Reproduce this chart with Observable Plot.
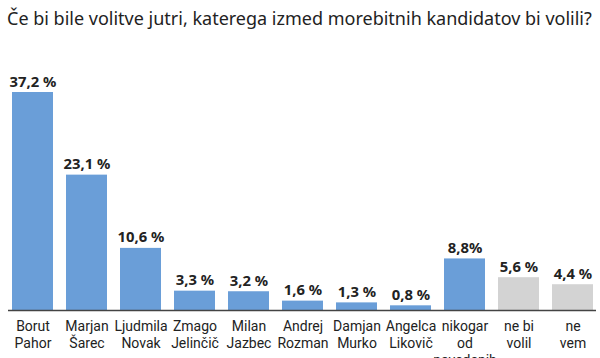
<!DOCTYPE html>
<html><head><meta charset="utf-8">
<script src="https://cdn.jsdelivr.net/npm/d3@7"></script>
<script src="https://cdn.jsdelivr.net/npm/@observablehq/plot@0.6"></script>
<style>
body{margin:0;background:#fff;width:600px;height:358px;overflow:hidden;font-family:"Noto Sans",sans-serif;}
#title{height:34px;box-sizing:border-box;padding:6px 0 0 7px;font-size:18px;line-height:24px;color:#222;white-space:nowrap;}
</style></head>
<body>
<div id="title">Če bi bile volitve jutri, katerega izmed morebitnih kandidatov bi volili?</div>
<div id="chart"></div>
<script>
const candidates = ["Borut\nPahor","Marjan\nŠarec","Ljudmila\nNovak","Zmago\nJelinčič","Milan\nJazbec","Andrej\nRozman","Damjan\nMurko","Angelca\nLikovič","nikogar\nod\nnavedenih","ne bi\nvolil","ne\nvem"];
const values = [37.2,23.1,10.6,3.3,3.2,1.6,1.3,0.8,8.8,5.6,4.4];
const valueLabels = ["37,2 %","23,1 %","10,6 %","3,3 %","3,2 %","1,6 %","1,3 %","0,8 %","8,8%","5,6 %","4,4 %"];
const groups = ["c","c","c","c","c","c","c","c","c","o","o"];
const data = candidates.map((c,i)=>({name:c, value:values[i], label:valueLabels[i], group:groups[i]}));

const chart = Plot.plot({
  width: 600, height: 324,
  marginTop: 58, marginBottom: 48, marginLeft: 8, marginRight: 4,
  style: {fontFamily: '"Noto Sans", sans-serif', color: "#222", background: "#fff"},
  x: {domain: candidates, range: [3.9, 601.2], paddingInner: 0.25, paddingOuter: 0.125},
  y: {domain: [0, 37.2], axis: null},
  color: {domain: ["c","o"], range: ["#6a9ed8","#d3d3d3"]},
  marks: [
    Plot.barY(data, {x: "name", y: "value", fill: "group"}),
    Plot.text(data, {x: "name", y: "value", text: "label", lineAnchor: "bottom", dy: -6, fontWeight: "bold", fontSize: 14.8, fill: "#222"}),
    Plot.axisX({tickSize: 0, tickPadding: 8, fontSize: 14, fontFamily: "Roboto, sans-serif", lineHeight: 1.214, fill: "#222", label: null}),
    Plot.ruleY([0], {stroke: "#444", strokeWidth: 1.5})
  ]
});
document.getElementById("chart").appendChild(chart);
</script>
</body></html>
